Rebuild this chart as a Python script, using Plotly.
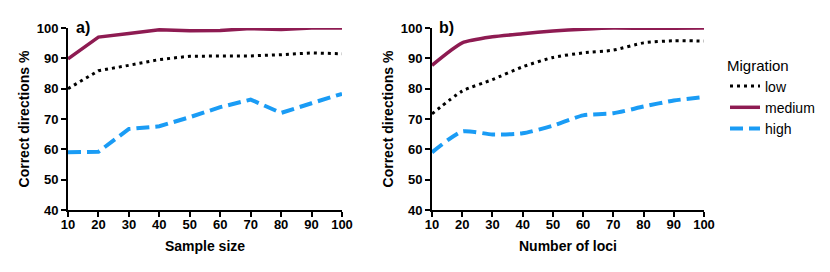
import plotly.graph_objects as go

x_vals = [10, 20, 30, 40, 50, 60, 70, 80, 90, 100]
series_names = ["low", "medium", "high"]

a_low = [80.0, 85.9, 87.7, 89.6, 90.7, 90.8, 90.8, 91.2, 91.8, 91.5]
a_medium = [89.8, 97.0, 98.2, 99.4, 99.1, 99.2, 99.8, 99.5, 100.0, 100.0]
a_high = [59.0, 59.2, 66.7, 67.6, 70.6, 73.9, 76.4, 72.0, 75.2, 78.3]

b_low = [71.7, 79.2, 83.0, 87.2, 90.3, 91.8, 92.7, 95.1, 95.8, 95.7]
b_medium = [87.7, 95.1, 97.1, 98.1, 99.0, 99.6, 100.0, 99.9, 99.9, 100.0]
b_high = [59.0, 65.9, 64.9, 65.3, 67.8, 71.2, 71.9, 74.1, 76.1, 77.2]

y_ticks = [40, 50, 60, 70, 80, 90, 100]

colors = {"low": "#000000", "medium": "#8e1b52", "high": "#1a9cf5"}
dashes = {"low": "3px,4px", "medium": "solid", "high": "13px,6px"}
widths = {"low": 3, "medium": 3.5, "high": 4}

# page has 8px body margin; figure is laid out in its own pixel coords
W, H = 822, 264
def fx(px):
    return (px - 8) / W
def fy(py):
    return 1 - (py - 8) / H

fig = go.Figure()
panels = [("x", "y", [a_low, a_medium, a_high], "linear"),
          ("x2", "y2", [b_low, b_medium, b_high], "spline")]
for i, (xa, ya, data, shape) in enumerate(panels):
    for name, vals in zip(series_names, data):
        fig.add_trace(go.Scatter(
            x=x_vals, y=vals, mode="lines", name=name,
            xaxis=xa, yaxis=ya, showlegend=(i == 0), cliponaxis=False,
            line=dict(color=colors[name], dash=dashes[name], width=widths[name],
                      shape=shape, smoothing=0.6)))

FONT = "Liberation Sans, Arial"
font_tick = dict(family=FONT, size=13, color="black", weight="bold")
axis_common = dict(showgrid=False, zeroline=False, showline=True, linecolor="black",
                   linewidth=2, ticks="outside", ticklen=5, tickwidth=2, tickcolor="black",
                   tickfont=font_tick, automargin=False)
title_font = dict(family=FONT, size=14, color="black", weight="bold")

fig.update_layout(
    width=W, height=H, margin=dict(l=0, r=0, t=0, b=0),
    paper_bgcolor="white", plot_bgcolor="white",
    xaxis=dict(domain=[fx(68), fx(342)], range=[10, 100], tickvals=x_vals, anchor="y",
               ticklabelstandoff=-4,
               title=dict(text="Sample size", font=title_font, standoff=11), **axis_common),
    yaxis=dict(domain=[fy(210), fy(28)], range=[40, 100], tickvals=y_ticks, anchor="x",
               title=dict(text="Correct directions %", font=title_font, standoff=4), **axis_common),
    xaxis2=dict(domain=[fx(432), fx(704)], range=[10, 100], tickvals=x_vals, anchor="y2",
                ticklabelstandoff=-4,
                title=dict(text="Number of loci", font=title_font, standoff=11), **axis_common),
    yaxis2=dict(domain=[fy(210), fy(28)], range=[40, 100], tickvals=y_ticks, anchor="x2",
                title=dict(text="Correct directions %", font=title_font, standoff=4), **axis_common),
    legend=dict(x=fx(725), y=fy(51), xanchor="left", yanchor="top",
                title=dict(text="Migration", font=dict(family=FONT, size=15, color="black")),
                font=dict(family=FONT, size=14, color="black"),
                tracegroupgap=0, itemwidth=30),
    annotations=[
        dict(text="<b>a)</b>", x=fx(74), y=fy(27), xref="paper", yref="paper",
             xanchor="left", yanchor="middle", showarrow=False,
             font=dict(family=FONT, size=16, color="black")),
        dict(text="<b>b)</b>", x=fx(437), y=fy(27), xref="paper", yref="paper",
             xanchor="left", yanchor="middle", showarrow=False,
             font=dict(family=FONT, size=16, color="black")),
    ],
)

fig.write_html("out.html")
